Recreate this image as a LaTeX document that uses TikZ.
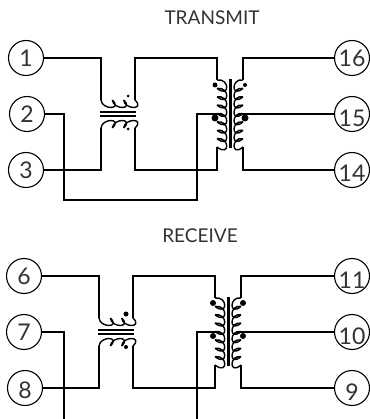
\documentclass[tikz,border=0pt]{standalone}
\usepackage{fontspec}
\setmainfont{Lato}
\begin{document}
\begin{tikzpicture}[x=1pt, y=-1pt, line join=miter]
    \tikzset{
      wire/.style={line width=1.4pt},
      pin/.style={circle, draw, line width=1.1pt, minimum size=35pt, inner sep=0pt},
      pinlabel/.style={font=\fontsize{23}{23}\selectfont, text=black!80},
      heading/.style={font=\fontsize{19}{19}\selectfont, text=black!80},
      hybrid/.pic={
        % small transformer
        \draw[wire] foreach \k in {0,1,2} {
          (101+\k*34/3,100) .. controls +(1,10) and +(10.3,10) .. +(34/3,0)
          (101+\k*34/3,128) .. controls +(1,-10) and +(10.3,-10) .. +(34/3,0)
        };
        \draw[line width=1.2pt] (100,112) -- +(36,0) (100,116) -- +(36,0);

        % large transformer
        \draw[wire] foreach \k in {0,...,7} {
          (217,80+\k*67/8) .. controls +(13,-2) and +(13,10.4) .. +(0,67/8)
          (243,80+\k*67/8) .. controls +(-12,-2) and +(-12,10.4) .. +(0,67/8)
        };
        \draw[line width=3pt] (230,79) -- (230,148);

        \path
        foreach \name/\x/\y in {
          pa/101/100,pb/101/128,pc/135/100,pd/135/128,
          top/217/58,bot/217/170,
          wa/217/80,wb/217/147,wc/243/80,wd/243/147,
          wl/222/114,wr/238/114,
          dota/128/96,dotb/128/129,dotc/215/85,dotd/245/85,dote/215/118,dotf/245/118
        } { (\x,\y) coordinate(#1-\name) };
      },
    }
    \useasboundingbox (0,0) rectangle (369,419);

    \pic at (0,0) {hybrid=t};
    \pic at (-2,218) {hybrid=b};

    \node[heading] (transmit) at (212,18) {TRANSMIT};
    \node[heading] (receive) at (200,236) {RECEIVE};

    \foreach \n/\x/\y/\dy in {
      1/26/58/0,2/27/114/0,3/26/170/0,
      16/352/58/0,15/352/114/-4,14/352/170/-3,
      6/24/276/0,7/24/332/0,8/25/388/-2,
      11/352/276/-4,10/352/332/-4,9/352/388/-4
    } {
      \node[pin, label={[pinlabel, yshift=\dy]center:\n}] (p\n) at (\x,\y) {};
    }

    \foreach \name/\x/\y in {
      t-low/64/200,t-ct/197/114,
      b-ct/197/332,b-enda/64/419,b-endb/197/419
    } { \coordinate (\name) at (\x,\y); }

    \foreach \i/\a/\b/\c/\d in {t/1/3/16/14,b/6/8/11/9} {
      \draw[wire] (p\a) -| (\i-pa);
      \draw[wire] (p\b) -| (\i-pb);
      \draw[wire] (\i-pc) |- (\i-top) -- (\i-wa);
      \draw[wire] (\i-pd) |- (\i-bot) -- (\i-wb);
      \draw[wire] (p\c) -| (\i-wc);
      \draw[wire] (p\d) -| (\i-wd);
    }
    \draw[wire] (p15) -- (t-wr);
    \draw[wire] (p10) -- (b-wr);
    \draw[wire] (p2) -| (t-low) -| (t-ct) -- (t-wl);
    \draw[wire] (p7) -| (b-enda);
    \draw[wire] (b-endb) -- (b-ct) -- (b-wl);

    \foreach \name/\r in {
      t-dota/1.5,t-dotb/1.5,t-dotc/2.5,t-dotd/2,t-dote/3.5,t-dotf/3.5,
      b-dota/2.5,b-dotb/2,b-dotc/3,b-dotd/3,b-dote/3,b-dotf/3
    } { \fill (\name) circle (\r); }
\end{tikzpicture}
\end{document}
